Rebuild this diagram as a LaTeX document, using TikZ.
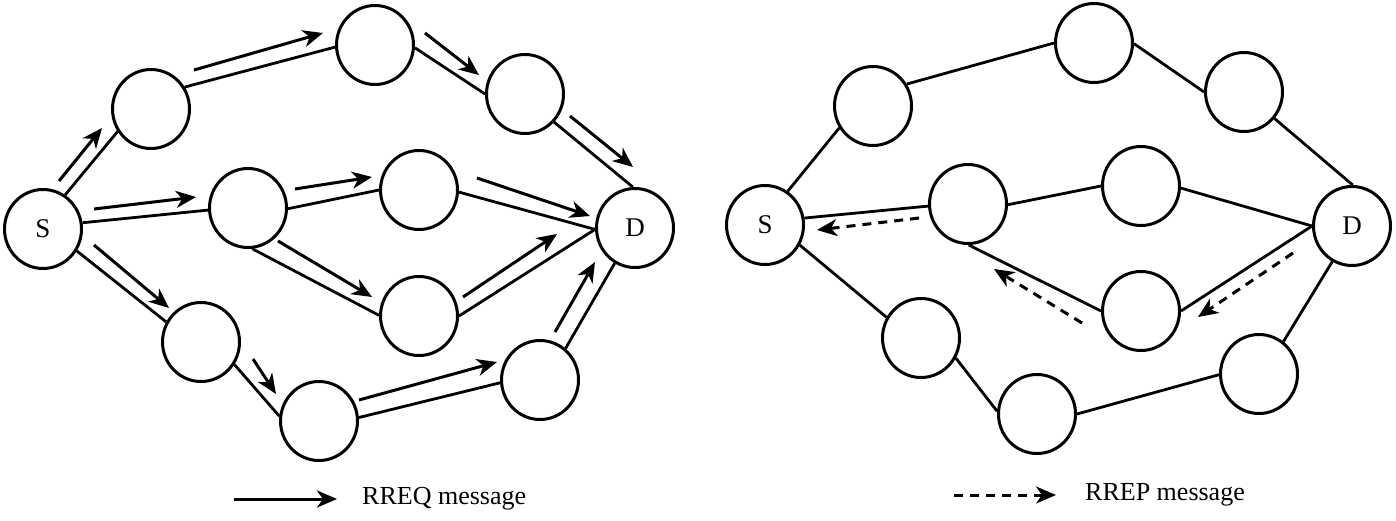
\documentclass[tikz,border=0pt]{standalone}
\usepackage{fontspec}
\setmainfont{Liberation Serif}
\usetikzlibrary{shapes.geometric,arrows.meta}
\begin{document}
\begin{tikzpicture}[x=1pt,y=-1pt,
  nd/.style={ellipse,draw,line width=3pt,minimum width=77pt,minimum height=79pt,inner sep=0pt,font=\fontsize{27}{27}\selectfont},
  ln/.style={line width=2.8pt},
  msg/.style={line width=3pt,-{Stealth[length=20pt,width=17pt,inset=6pt]}},
  rep/.style={msg,dash pattern=on 9pt off 7pt},
  lbl/.style={font=\fontsize{26}{26}\selectfont,anchor=west,inner sep=0pt}]
\useasboundingbox (0,0) rectangle (1396,520);
% ---------- left graph ----------
\node[nd] (lS) at (43,229) {S};
\node[nd] (lA) at (151,109) {};
\node[nd] (lB) at (375,45) {};
\node[nd] (lC) at (525,94) {};
\node[nd] (lD) at (635,228) {D};
\node[nd] (lE) at (248,208) {};
\node[nd] (lF) at (419,190) {};
\node[nd] (lG) at (419,316) {};
\node[nd] (lH) at (201,342) {};
\node[nd] (lI) at (319,421) {};
\node[nd] (lJ) at (540,380) {};
\draw[ln] (lS.57) -- (lA.214);
\draw[ln] (lA.33) -- (lB.183);
\draw[ln] (lB.-4) -- (lC.180);
\draw[ln] (lC.-44) -- (lD.93);
\draw[ln] (lS.9) -- (lE.183);
\draw[ln] (lE.-1) -- (lF.180);
\draw[ln] (lF.-3) -- (lD.182);
\draw[ln] (lE.-84) -- (lG.179);
\draw[ln] (lG.0) -- (lD.182);
\draw[ln] (lS.-33) -- (lH.150);
\draw[ln] (lH.-34) -- (lI.173);
\draw[ln] (lI.5) -- (lJ.184);
\draw[ln] (lJ.51) -- (lD.240);
% RREQ arrows
\draw[msg] (59,181) -- (102,128);
\draw[msg] (194,70) -- (323,33);
\draw[msg] (425,33) -- (479,75);
\draw[msg] (570,116) -- (633,167);
\draw[msg] (94,209) -- (196,197);
\draw[msg] (295,189) -- (372,177);
\draw[msg] (477,178) -- (590,216);
\draw[msg] (278,241) -- (372,297);
\draw[msg] (463,297) -- (557,234);
\draw[msg] (94,245) -- (169,308);
\draw[msg] (253,359) -- (276,394);
\draw[msg] (359,400) -- (497,362);
\draw[msg] (555,332) -- (595,262);
% ---------- right graph ----------
\node[nd] (rS) at (765,225) {S};
\node[nd] (rA) at (873,106) {};
\node[nd] (rB) at (1094,43) {};
\node[nd] (rC) at (1244,92) {};
\node[nd] (rD) at (1352,226) {D};
\node[nd] (rE) at (968,204) {};
\node[nd] (rF) at (1141,186) {};
\node[nd] (rG) at (1141,311) {};
\node[nd] (rH) at (921,338) {};
\node[nd] (rI) at (1037,414) {};
\node[nd] (rJ) at (1259,374) {};
\draw[ln] (rS.56) -- (rA.213);
\draw[ln] (rA.33) -- (rB.180);
\draw[ln] (rB.-1) -- (rC.180);
\draw[ln] (rC.-41) -- (rD.89);
\draw[ln] (rS.10) -- (rE.183);
\draw[ln] (rE.-1) -- (rF.180);
\draw[ln] (rF.-3) -- (rD.180);
\draw[ln] (rE.-89) -- (rG.180);
\draw[ln] (rG.0) -- (rD.180);
\draw[ln] (rS.-30) -- (rH.149);
\draw[ln] (rH.-30) -- (rI.176);
\draw[ln] (rI.0) -- (rJ.181);
\draw[ln] (rJ.53) -- (rD.241);
% RREP arrows
\draw[rep] (919,218) -- (817,230);
\draw[rep] (1082,323) -- (994,269);
\draw[rep] (1293,253) -- (1198,317);
% ---------- legend ----------
\coordinate (q1) at (234,499);
\coordinate (q2) at (337,499);
\draw[msg] (q1) -- (q2);
\node[lbl] (qt) at (362,499) {RREQ message};
\coordinate (p1) at (954,495);
\coordinate (p2) at (1056,495);
\draw[rep] (p1) -- (p2);
\node[lbl] (pt) at (1085,495) {RREP message};
\end{tikzpicture}
\end{document}
